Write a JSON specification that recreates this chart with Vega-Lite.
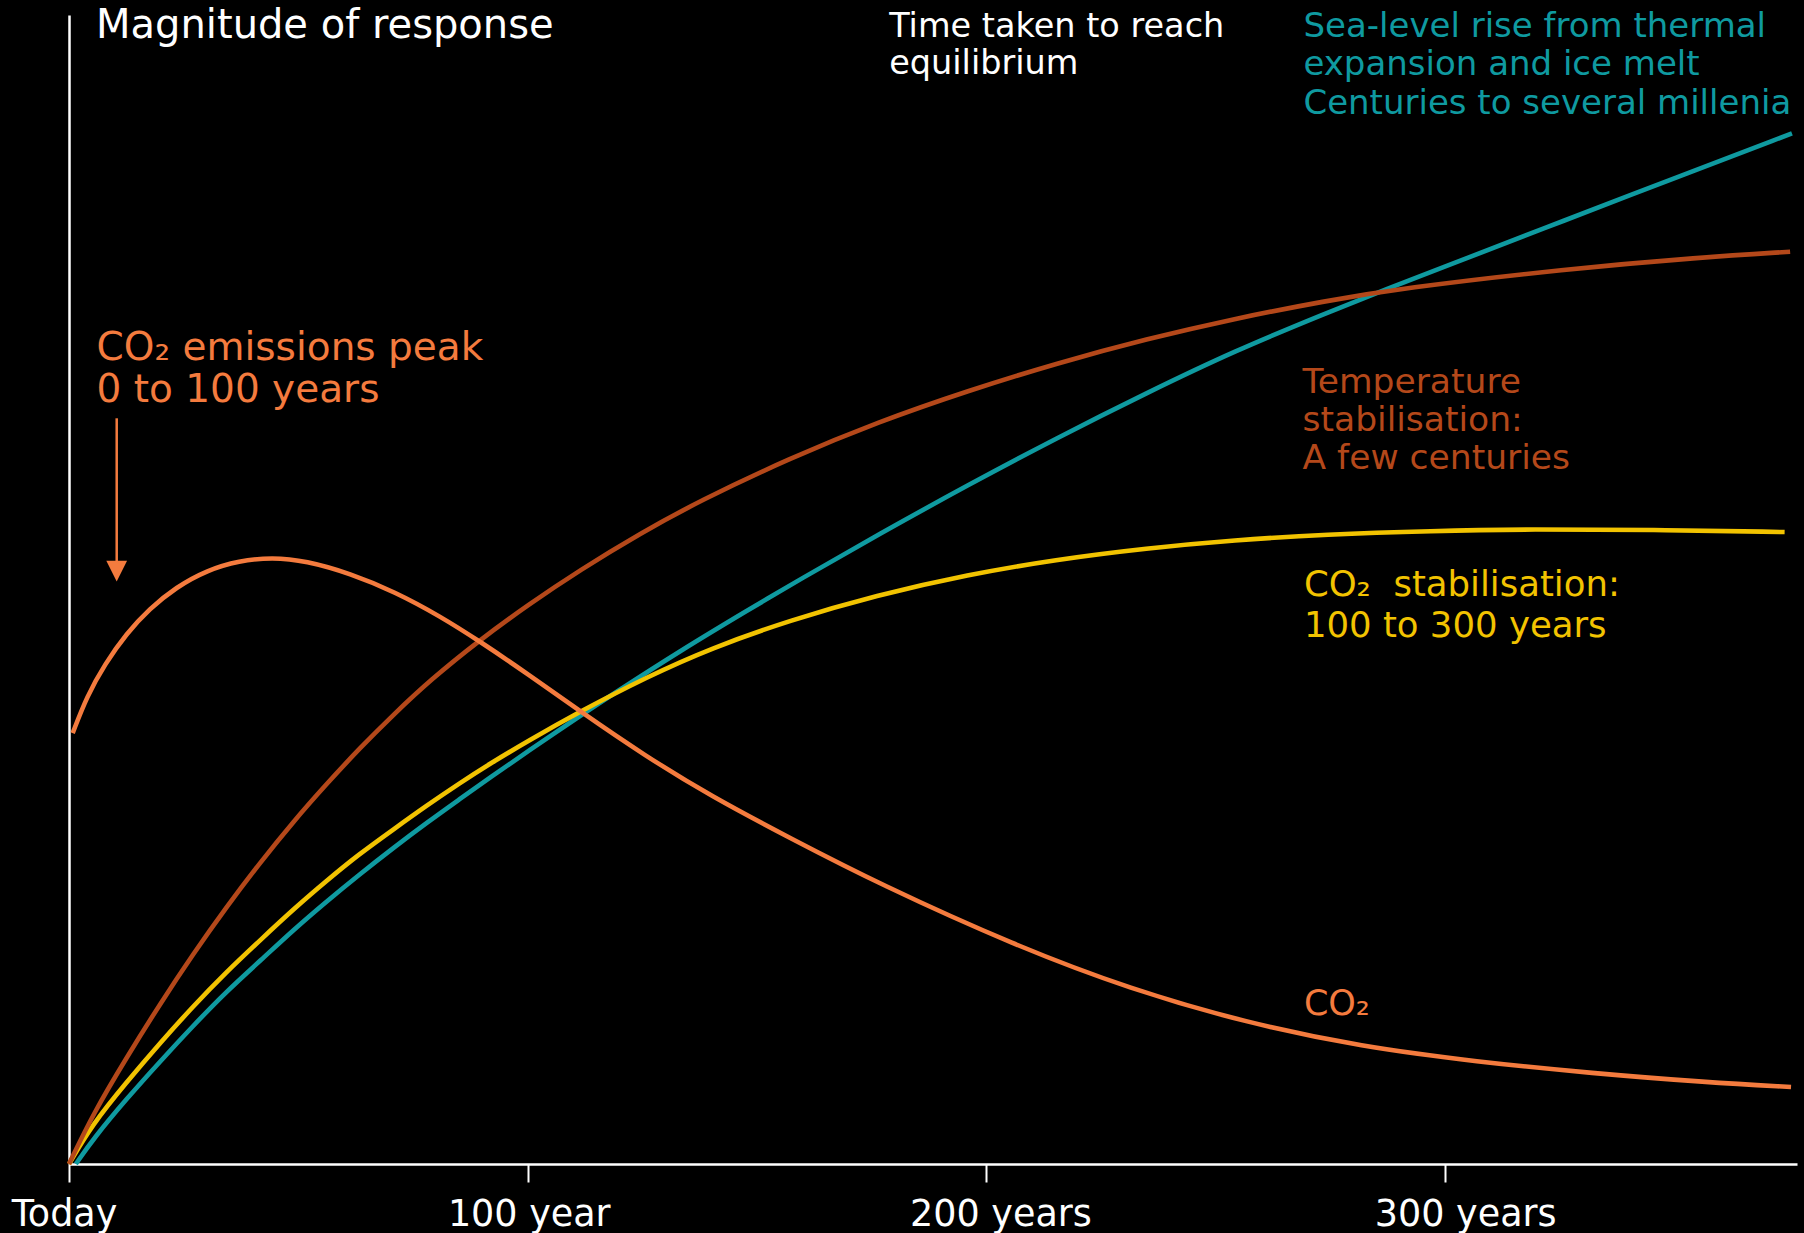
{
  "$schema": "https://vega.github.io/schema/vega-lite/v6.json",
  "width": 1728,
  "height": 1149,
  "autosize": {"type": "none"},
  "padding": {"left": 69, "top": 15, "right": 7, "bottom": 69},
  "background": "#000000",
  "config": {"view": {"stroke": null}, "font": "DejaVu Sans"},
  "datasets": {
    "curves": [
      {"series": "sea", "year": 1.5, "value": 0},
      {"series": "sea", "year": 5.3, "value": 2.2},
      {"series": "sea", "year": 12.6, "value": 5.7},
      {"series": "sea", "year": 19.8, "value": 8.9},
      {"series": "sea", "year": 27, "value": 12.0},
      {"series": "sea", "year": 34, "value": 14.9},
      {"series": "sea", "year": 42, "value": 17.8},
      {"series": "sea", "year": 49, "value": 20.4},
      {"series": "sea", "year": 56, "value": 22.8},
      {"series": "sea", "year": 63, "value": 25.1},
      {"series": "sea", "year": 71, "value": 27.6},
      {"series": "sea", "year": 78, "value": 29.7},
      {"series": "sea", "year": 85, "value": 31.7},
      {"series": "sea", "year": 92, "value": 33.7},
      {"series": "sea", "year": 100, "value": 35.9},
      {"series": "sea", "year": 111, "value": 38.9},
      {"series": "sea", "year": 119, "value": 41.0},
      {"series": "sea", "year": 133, "value": 44.6},
      {"series": "sea", "year": 148, "value": 48.2},
      {"series": "sea", "year": 159, "value": 50.8},
      {"series": "sea", "year": 176.5, "value": 54.8},
      {"series": "sea", "year": 196, "value": 59.1},
      {"series": "sea", "year": 215.4, "value": 63.2},
      {"series": "sea", "year": 234.9, "value": 67.1},
      {"series": "sea", "year": 254.3, "value": 70.8},
      {"series": "sea", "year": 273.8, "value": 74.0},
      {"series": "sea", "year": 287.4, "value": 76.2},
      {"series": "sea", "year": 300, "value": 78.1},
      {"series": "sea", "year": 326.5, "value": 82.2},
      {"series": "sea", "year": 350, "value": 85.8},
      {"series": "sea", "year": 375.6, "value": 89.7},

      {"series": "co2stab", "year": 0, "value": 0},
      {"series": "co2stab", "year": 5, "value": 3.4},
      {"series": "co2stab", "year": 12.5, "value": 7.1},
      {"series": "co2stab", "year": 20, "value": 10.6},
      {"series": "co2stab", "year": 27, "value": 13.7},
      {"series": "co2stab", "year": 34, "value": 16.6},
      {"series": "co2stab", "year": 42, "value": 19.6},
      {"series": "co2stab", "year": 49, "value": 22.2},
      {"series": "co2stab", "year": 56, "value": 24.6},
      {"series": "co2stab", "year": 63, "value": 26.9},
      {"series": "co2stab", "year": 71, "value": 29.2},
      {"series": "co2stab", "year": 78, "value": 31.2},
      {"series": "co2stab", "year": 85, "value": 33.1},
      {"series": "co2stab", "year": 92, "value": 34.9},
      {"series": "co2stab", "year": 100, "value": 36.8},
      {"series": "co2stab", "year": 111, "value": 39.3},
      {"series": "co2stab", "year": 126, "value": 42.4},
      {"series": "co2stab", "year": 140, "value": 44.9},
      {"series": "co2stab", "year": 157, "value": 47.3},
      {"series": "co2stab", "year": 176, "value": 49.5},
      {"series": "co2stab", "year": 196, "value": 51.3},
      {"series": "co2stab", "year": 215, "value": 52.6},
      {"series": "co2stab", "year": 235, "value": 53.6},
      {"series": "co2stab", "year": 254, "value": 54.3},
      {"series": "co2stab", "year": 274, "value": 54.8},
      {"series": "co2stab", "year": 297, "value": 55.1},
      {"series": "co2stab", "year": 319, "value": 55.25},
      {"series": "co2stab", "year": 345, "value": 55.2},
      {"series": "co2stab", "year": 374, "value": 55.0},

      {"series": "temp", "year": 0, "value": 0},
      {"series": "temp", "year": 5.3, "value": 4.4},
      {"series": "temp", "year": 12.6, "value": 9.3},
      {"series": "temp", "year": 19.8, "value": 13.9},
      {"series": "temp", "year": 27.1, "value": 18.3},
      {"series": "temp", "year": 34.4, "value": 22.4},
      {"series": "temp", "year": 41.6, "value": 26.2},
      {"series": "temp", "year": 48.9, "value": 29.8},
      {"series": "temp", "year": 56.2, "value": 33.1},
      {"series": "temp", "year": 63.4, "value": 36.2},
      {"series": "temp", "year": 70.7, "value": 39.1},
      {"series": "temp", "year": 78.7, "value": 42.1},
      {"series": "temp", "year": 89.5, "value": 45.6},
      {"series": "temp", "year": 100.2, "value": 48.7},
      {"series": "temp", "year": 111.4, "value": 51.7},
      {"series": "temp", "year": 124.6, "value": 54.9},
      {"series": "temp", "year": 137.4, "value": 57.7},
      {"series": "temp", "year": 157, "value": 61.4},
      {"series": "temp", "year": 176.5, "value": 64.6},
      {"series": "temp", "year": 196, "value": 67.3},
      {"series": "temp", "year": 215.4, "value": 69.7},
      {"series": "temp", "year": 234.9, "value": 71.8},
      {"series": "temp", "year": 254.3, "value": 73.6},
      {"series": "temp", "year": 273.8, "value": 75.1},
      {"series": "temp", "year": 290, "value": 76.2},
      {"series": "temp", "year": 326.5, "value": 77.9},
      {"series": "temp", "year": 355.6, "value": 78.9},
      {"series": "temp", "year": 375.2, "value": 79.4},

      {"series": "co2", "year": 0.8, "value": 37.5},
      {"series": "co2", "year": 3.9, "value": 40.7},
      {"series": "co2", "year": 7.8, "value": 43.5},
      {"series": "co2", "year": 12.6, "value": 46.2},
      {"series": "co2", "year": 17.5, "value": 48.3},
      {"series": "co2", "year": 23.3, "value": 50.2},
      {"series": "co2", "year": 30.2, "value": 51.7},
      {"series": "co2", "year": 37.0, "value": 52.5},
      {"series": "co2", "year": 44.3, "value": 52.8},
      {"series": "co2", "year": 51.6, "value": 52.5},
      {"series": "co2", "year": 61.3, "value": 51.4},
      {"series": "co2", "year": 71.0, "value": 49.8},
      {"series": "co2", "year": 80.8, "value": 47.7},
      {"series": "co2", "year": 89.5, "value": 45.5},
      {"series": "co2", "year": 100.2, "value": 42.6},
      {"series": "co2", "year": 111.4, "value": 39.4},
      {"series": "co2", "year": 125.3, "value": 35.6},
      {"series": "co2", "year": 140.0, "value": 32.0},
      {"series": "co2", "year": 157.5, "value": 28.3},
      {"series": "co2", "year": 176.5, "value": 24.4},
      {"series": "co2", "year": 206.3, "value": 19.0},
      {"series": "co2", "year": 231.5, "value": 15.2},
      {"series": "co2", "year": 256.6, "value": 12.3},
      {"series": "co2", "year": 281.8, "value": 10.2},
      {"series": "co2", "year": 306.9, "value": 8.9},
      {"series": "co2", "year": 332.0, "value": 7.9},
      {"series": "co2", "year": 357.2, "value": 7.1},
      {"series": "co2", "year": 375.4, "value": 6.7}
    ],
    "notes": [
      {"group": "title", "label": "Magnitude of response", "year": 5.9, "value": 98.0},
      {"group": "white", "label": "Time taken to reach", "year": 178.8, "value": 98.1},
      {"group": "white", "label": "equilibrium", "year": 178.8, "value": 94.9},
      {"group": "sea", "label": "Sea-level rise from thermal", "year": 269.1, "value": 98.1},
      {"group": "sea", "label": "expansion and ice melt", "year": 269.1, "value": 94.8},
      {"group": "sea", "label": "Centuries to several millenia", "year": 269.1, "value": 91.4},
      {"group": "peak", "label": "CO₂ emissions peak", "year": 6.0, "value": 70.0},
      {"group": "peak", "label": "0 to 100 years", "year": 6.0, "value": 66.3},
      {"group": "temp", "label": "Temperature", "year": 268.9, "value": 67.1},
      {"group": "temp", "label": "stabilisation:", "year": 268.9, "value": 63.8},
      {"group": "temp", "label": "A few centuries", "year": 268.9, "value": 60.5},
      {"group": "stab", "label": "CO₂\u00a0 stabilisation:", "year": 269.2, "value": 49.4},
      {"group": "stab", "label": "100 to 300 years", "year": 269.2, "value": 45.9},
      {"group": "co2", "label": "CO₂", "year": 269.2, "value": 13.0}
    ],
    "arrow": [
      {"year": 10.4, "start": 64.9, "end": 52.0, "head": 51.6}
    ]
  },
  "layer": [
    {
      "data": {"name": "curves"},
      "mark": {"type": "line", "interpolate": "basis", "strokeWidth": 4.6, "strokeCap": "butt"},
      "encoding": {
        "x": {
          "field": "year", "type": "quantitative",
          "scale": {"domain": [0, 376.7], "nice": false, "zero": false},
          "axis": {
            "values": [0, 100, 200, 300],
            "labelExpr": "datum.value == 0 ? 'Today' : (datum.value == 100 ? '100 year' : datum.value + ' years')",
            "labelOffset": {"expr": "datum.value == 0 ? -5 : (datum.value == 100 ? 1 : (datum.value == 200 ? 14 : 20))"},
            "labelLimit": 500,
            "domainColor": "#ffffff", "domainWidth": 2.5,
            "tickColor": "#ffffff", "tickWidth": 2, "tickSize": 18,
            "labelColor": "#ffffff", "labelFontSize": 36.5, "labelFont": "DejaVu Sans",
            "labelBaseline": "alphabetic", "labelPadding": 43,
            "labelFlush": false, "labelOverlap": false,
            "grid": false, "title": null
          }
        },
        "y": {
          "field": "value", "type": "quantitative",
          "scale": {"domain": [0, 100], "nice": false},
          "axis": {"domainColor": "#ffffff", "domainWidth": 2.5, "ticks": false, "labels": false, "grid": false, "title": null}
        },
        "color": {
          "field": "series", "type": "nominal",
          "scale": {"domain": ["sea", "co2stab", "temp", "co2"], "range": ["#0F9AA0", "#F2C300", "#B4481A", "#F47B3E"]},
          "legend": null
        }
      }
    },
    {
      "data": {"name": "arrow"},
      "mark": {"type": "rule", "color": "#F47B3E", "strokeWidth": 2.5},
      "encoding": {
        "x": {"field": "year", "type": "quantitative"},
        "y": {"field": "start", "type": "quantitative"},
        "y2": {"field": "end"}
      }
    },
    {
      "data": {"name": "arrow"},
      "mark": {"type": "point", "shape": "M-1,-1L1,-1L0,1Z", "size": 430, "filled": true, "opacity": 1, "color": "#F47B3E", "strokeWidth": 0},
      "encoding": {
        "x": {"field": "year", "type": "quantitative"},
        "y": {"field": "head", "type": "quantitative"}
      }
    },
    {
      "data": {"name": "notes"},
      "transform": [{"filter": "datum.group == 'title'"}],
      "mark": {"type": "text", "align": "left", "baseline": "alphabetic", "color": "#ffffff", "fontSize": 40, "font": "DejaVu Sans"},
      "encoding": {"x": {"field": "year", "type": "quantitative"}, "y": {"field": "value", "type": "quantitative"}, "text": {"field": "label"}}
    },
    {
      "data": {"name": "notes"},
      "transform": [{"filter": "datum.group == 'white'"}],
      "mark": {"type": "text", "align": "left", "baseline": "alphabetic", "color": "#ffffff", "fontSize": 33.5, "font": "DejaVu Sans"},
      "encoding": {"x": {"field": "year", "type": "quantitative"}, "y": {"field": "value", "type": "quantitative"}, "text": {"field": "label"}}
    },
    {
      "data": {"name": "notes"},
      "transform": [{"filter": "datum.group == 'sea'"}],
      "mark": {"type": "text", "align": "left", "baseline": "alphabetic", "color": "#0F9AA0", "fontSize": 34, "font": "DejaVu Sans"},
      "encoding": {"x": {"field": "year", "type": "quantitative"}, "y": {"field": "value", "type": "quantitative"}, "text": {"field": "label"}}
    },
    {
      "data": {"name": "notes"},
      "transform": [{"filter": "datum.group == 'peak'"}],
      "mark": {"type": "text", "align": "left", "baseline": "alphabetic", "color": "#F47B3E", "fontSize": 39, "font": "DejaVu Sans"},
      "encoding": {"x": {"field": "year", "type": "quantitative"}, "y": {"field": "value", "type": "quantitative"}, "text": {"field": "label"}}
    },
    {
      "data": {"name": "notes"},
      "transform": [{"filter": "datum.group == 'temp'"}],
      "mark": {"type": "text", "align": "left", "baseline": "alphabetic", "color": "#B4481A", "fontSize": 34.5, "font": "DejaVu Sans"},
      "encoding": {"x": {"field": "year", "type": "quantitative"}, "y": {"field": "value", "type": "quantitative"}, "text": {"field": "label"}}
    },
    {
      "data": {"name": "notes"},
      "transform": [{"filter": "datum.group == 'stab'"}],
      "mark": {"type": "text", "align": "left", "baseline": "alphabetic", "color": "#F2C300", "fontSize": 35.5, "font": "DejaVu Sans"},
      "encoding": {"x": {"field": "year", "type": "quantitative"}, "y": {"field": "value", "type": "quantitative"}, "text": {"field": "label"}}
    },
    {
      "data": {"name": "notes"},
      "transform": [{"filter": "datum.group == 'co2'"}],
      "mark": {"type": "text", "align": "left", "baseline": "alphabetic", "color": "#F47B3E", "fontSize": 35, "font": "DejaVu Sans"},
      "encoding": {"x": {"field": "year", "type": "quantitative"}, "y": {"field": "value", "type": "quantitative"}, "text": {"field": "label"}}
    }
  ]
}
